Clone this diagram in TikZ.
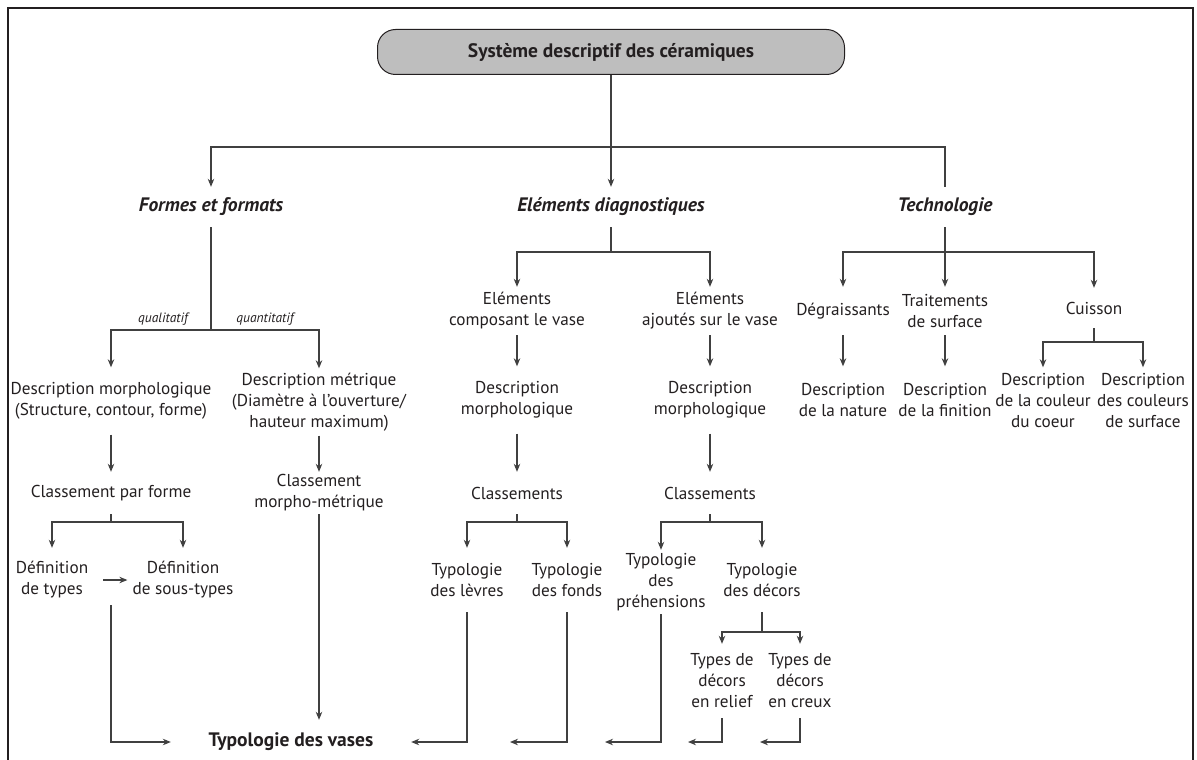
\documentclass[tikz,border=0pt]{standalone}
\usepackage{fontspec}
\setmainfont{PT Sans}
\usetikzlibrary{arrows.meta,positioning}
\definecolor{linegray}{RGB}{64,64,64}
\definecolor{boxgray}{RGB}{190,190,190}
\definecolor{inkblack}{RGB}{35,31,32}

\begin{document}
\begin{tikzpicture}[x=1pt, y=-1pt,
    font=\fontsize{17.2}{21}\selectfont, text=inkblack,
    lbl/.style={align=center, inner sep=0pt},
    topbox/.style={draw=inkblack, line width=1pt, fill=boxgray, rounded corners=18pt,
        minimum width=467pt, minimum height=45pt, font=\fontsize{19.5}{21}\selectfont\bfseries},
    head/.style={lbl, minimum height=40pt, font=\fontsize{19.5}{21}\selectfont\bfseries\itshape},
    rowb/.style={lbl, minimum height=48pt},
    rowc/.style={lbl, minimum height=67pt},
    rowd/.style={lbl, minimum height=42pt},
    rowe/.style={lbl, minimum height=64pt},
    rowf/.style={lbl, minimum height=74pt},
    branch/.style={lbl, font=\fontsize{13.5}{14}\selectfont\itshape},
    vasebox/.style={lbl, minimum width=240pt, minimum height=44pt, font=\fontsize{19.5}{21}\selectfont\bfseries},
    conn/.style={draw=linegray, line width=1.1pt},
    arrow/.style={conn, -{Stealth[length=8pt, width=6.5pt]}}
]
\useasboundingbox (0,0) rectangle (1197,760);

% Frame
\draw[inkblack, line width=2.6pt] (8,760) -- (8,8) -- (1193,8) -- (1193,760);

% Top
\node[topbox] (sys) at (611,52) {Système descriptif des céramiques};

% Three branches
\node[head] (formes) at (211,207) {Formes et formats};
\node[head] (elem) at (611,207) {Eléments diagnostiques};
\node[head] (techno) at (945,207) {Technologie};

\coordinate (b0) at (611,147);
\draw[arrow] (sys) -- (elem);
\draw[arrow] (b0) -| (formes);
\draw[conn] (b0) -| (techno);

% Formes et formats
\coordinate (fb) at (211,330);
\draw[conn] (formes) -- (fb);
\node[branch] (quali) at (163,319) {qualitatif};
\node[branch] (quanti) at (265,319) {quantitatif};

\node[rowc] (morph) at (111,401) {Description morphologique\\(Structure, contour, forme)};
\node[rowc] (metr) at (319,402) {Description métrique\\(Diamètre à l'ouverture/\\hauteur maximum)};
\draw[arrow] (fb) -| (morph);
\draw[arrow] (fb) -| (metr);

\node[rowd] (cpf) at (111,493) {Classement par forme};
\node[rowd] (cmm) at (319,493) {Classement\\morpho-métrique};
\draw[arrow] (morph) -- (cpf);
\draw[arrow] (metr) -- (cmm);

\coordinate (cpfb) at (111,522);
\draw[conn] (cpf) -- (cpfb);
\node[rowe] (dtyp) at (52,580) {Définition\\de types};
\node[rowe] (dsous) at (183,580) {Définition\\de sous-types};
\draw[arrow] (cpfb) -| (dtyp);
\draw[arrow] (cpfb) -| (dsous);
\draw[arrow, shorten <=15pt, shorten >=5pt] (dtyp) -- (dsous);

% Typologie des vases
\node[vasebox] (vases) at (291,742) {Typologie des vases};
\coordinate (dvb) at (111,605);
\draw[arrow] (dvb) |- (vases);
\draw[arrow] (cmm) -- (cmm |- vases.north);

% Eléments diagnostiques
\coordinate (eb) at (611,252);
\draw[conn] (elem) -- (eb);
\node[rowb] (comp) at (517,311) {Eléments\\composant le vase};
\node[rowb] (ajout) at (710,311) {Eléments\\ajoutés sur le vase};
\draw[arrow] (eb) -| (comp);
\draw[arrow] (eb) -| (ajout);

\node[rowc] (dm1) at (517,400) {Description\\morphologique};
\node[rowc] (dm2) at (710,400) {Description\\morphologique};
\draw[arrow] (comp) -- (dm1);
\draw[arrow] (ajout) -- (dm2);

\node[rowd] (cl1) at (517,493) {Classements};
\node[rowd] (cl2) at (710,493) {Classements};
\draw[arrow] (dm1) -- (cl1);
\draw[arrow] (dm2) -- (cl2);

\coordinate (c1b) at (517,522);
\coordinate (c2b) at (710,522);
\draw[conn] (cl1) -- (c1b);
\draw[conn] (cl2) -- (c2b);
\node[rowe] (levres) at (467,580) {Typologie\\des lèvres};
\node[rowe] (fonds) at (567,580) {Typologie\\des fonds};
\node[rowe] (prehen) at (661,582) {Typologie\\des\\préhensions};
\node[rowe] (decors) at (762,580) {Typologie\\des décors};
\draw[arrow] (c1b) -| (levres);
\draw[arrow] (c1b) -| (fonds);
\draw[arrow] (c2b) -| (prehen);
\draw[arrow] (c2b) -| (decors);

\coordinate (db) at (762,632);
\draw[conn] (decors) -- (db);
\node[rowf] (relief) at (722,681) {Types de\\décors\\en relief};
\node[rowf] (creux) at (800,681) {Types de\\décors\\en creux};
\draw[arrow] (db) -| (relief);
\draw[arrow] (db) -| (creux);

% Flows to the vases
\coordinate (vfonds) at (510,742);
\coordinate (vprehen) at (605,742);
\coordinate (vrelief) at (688,742);
\coordinate (vcreux) at (760,742);
\draw[arrow] (levres) |- (vases);
\draw[arrow] (fonds) |- (vfonds);
\draw[arrow] (prehen) |- (vprehen);
\draw[arrow] (relief) |- (vrelief);
\draw[arrow] (creux) |- (vcreux);

% Technologie
\coordinate (tb) at (945,252);
\node[rowb] (degr) at (843,311) {Dégraissants};
\node[rowb] (trait) at (945,311) {Traitements\\de surface};
\node[rowb, minimum height=40pt] (cuis) at (1094,308) {Cuisson};
\draw[arrow] (techno) -- (trait);
\draw[arrow] (tb) -| (degr);
\draw[arrow] (tb) -| (cuis);

\node[rowc] (nat) at (843,400) {Description\\de la nature};
\node[rowc] (fin) at (945,400) {Description\\de la finition};
\draw[arrow] (degr) -- (nat);
\draw[arrow] (trait) -- (fin);

\coordinate (cb) at (1094,342);
\draw[conn] (cuis) -- (cb);
\node[rowc] (coeur) at (1043,401) {Description\\de la couleur\\du coeur};
\node[rowc] (surf) at (1143,401) {Description\\des couleurs\\de surface};
\draw[arrow] (cb) -| (coeur);
\draw[arrow] (cb) -| (surf);

\end{tikzpicture}
\end{document}
